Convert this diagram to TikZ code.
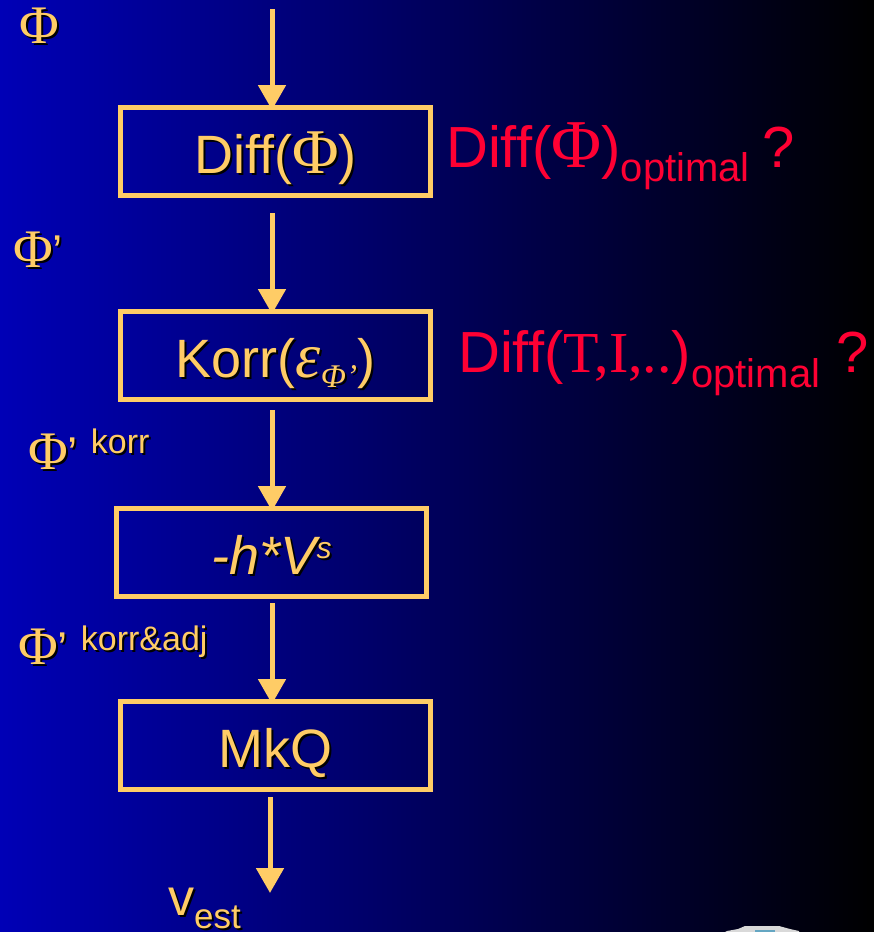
\documentclass[tikz,border=0pt]{standalone}
\usepackage{fontspec}
\setmainfont{Liberation Sans}
\newfontfamily\tms{Liberation Serif}
\newfontfamily\sym[Scale=1.18]{Liberation Serif}
\usetikzlibrary{arrows.meta}
\definecolor{gold}{RGB}{255,204,102}
\definecolor{alert}{RGB}{255,0,51}
\definecolor{deepblue}{RGB}{0,0,182}
\definecolor{midblue}{RGB}{0,0,108}
\newcommand\fs[1]{\fontsize{#1}{#1}\selectfont}
% text with a dark drop shadow
\newcommand\shd[1]{\leavevmode\rlap{\kern2pt\raisebox{-2pt}{\color{black}#1}}#1}
\begin{document}
\begin{tikzpicture}[x=1pt,y=-1pt,
  stage/.style={draw=gold, line width=5pt, minimum width=310pt, minimum height=88pt,
    inner sep=0pt, outer sep=0pt, text=gold, text height=43pt, text depth=0pt, font=\fs{54}},
  flow/.style={draw=gold, line width=5pt, -{Triangle[length=25pt,width=27pt]}},
  sig/.style={anchor=base west, inner sep=0pt, text=gold, font=\fs{46}},
  redlbl/.style={anchor=base west, inner sep=0pt, text=alert, font=\fs{58}}]
\useasboundingbox (0,0) rectangle (874,932);
\shade[left color=deepblue, middle color=midblue, right color=black] (0,0) rectangle (874,932);

% processing stages
\node[stage] (d1) at (275.5,151.5) {\shd{Diff({\sym Φ})}};
\node[stage] (d2) at (275.5,355.5) {\shd{Korr({\sym\itshape ε}\raisebox{-10pt}{\fs{28}\sym\itshape Φ’})}};
\node[stage] (d3) at (271.5,552.5) {\shd{\itshape -h*V\raisebox{16pt}{\fs{30}s}}};
\node[stage] (d4) at (275.5,745.5) {\shd{MkQ}};

% signal flow
\coordinate (a0) at (272,9);
\coordinate (vout) at (270,893);
\draw[flow, shorten >=-2.5pt] (a0) -- (d1.north -| a0);
\draw[flow, shorten <=17.5pt, shorten >=-2.5pt] (d1.south -| a0) -- (d2.north -| a0);
\draw[flow, shorten <=10.5pt, shorten >=-2.5pt] (d2.south -| a0) -- (d3.north -| a0);
\draw[flow, shorten <=6.5pt, shorten >=-2.5pt] (d3.south -| a0) -- (d4.north -| a0);
\draw[flow, shorten <=7.5pt] (d4.south -| vout) -- (vout);

% signal names
\node[sig] (p0) at (19,43) {\shd{{\sym Φ}}};
\node[sig] (p1) at (13,267) {\shd{{\sym Φ}’}};
\node[sig] (p2) at (28,469) {\shd{{\sym Φ}’ \raisebox{16pt}{\fs{34}korr}}};
\node[sig] (p3) at (18,664) {\shd{{\sym Φ}’ \raisebox{14pt}{\fs{34}korr\&adj}}};
\node[sig, font=\fs{52}] (vest) at (168,915) {\shd{v\raisebox{-13pt}{\fs{35}est}}};

% open questions
\node[redlbl] (q1) at (446,167) {Diff({\sym Φ})\raisebox{-14pt}{\fs{40}optimal}\hspace{-3pt} ?};
\node[redlbl] (q2) at (458,372) {Diff({\tms T,I,..})\raisebox{-15pt}{\fs{40}optimal} ?};

% logo fragment at the lower edge
\fill[gray!30] (745,926) -- (779,926) -- (790,929) -- (799,931) -- (799,932)
  -- (725,932) -- (727,931) -- (738,929) -- cycle;
\fill[cyan!50!gray] (755,929.5) rectangle (775,932);
\end{tikzpicture}
\end{document}
